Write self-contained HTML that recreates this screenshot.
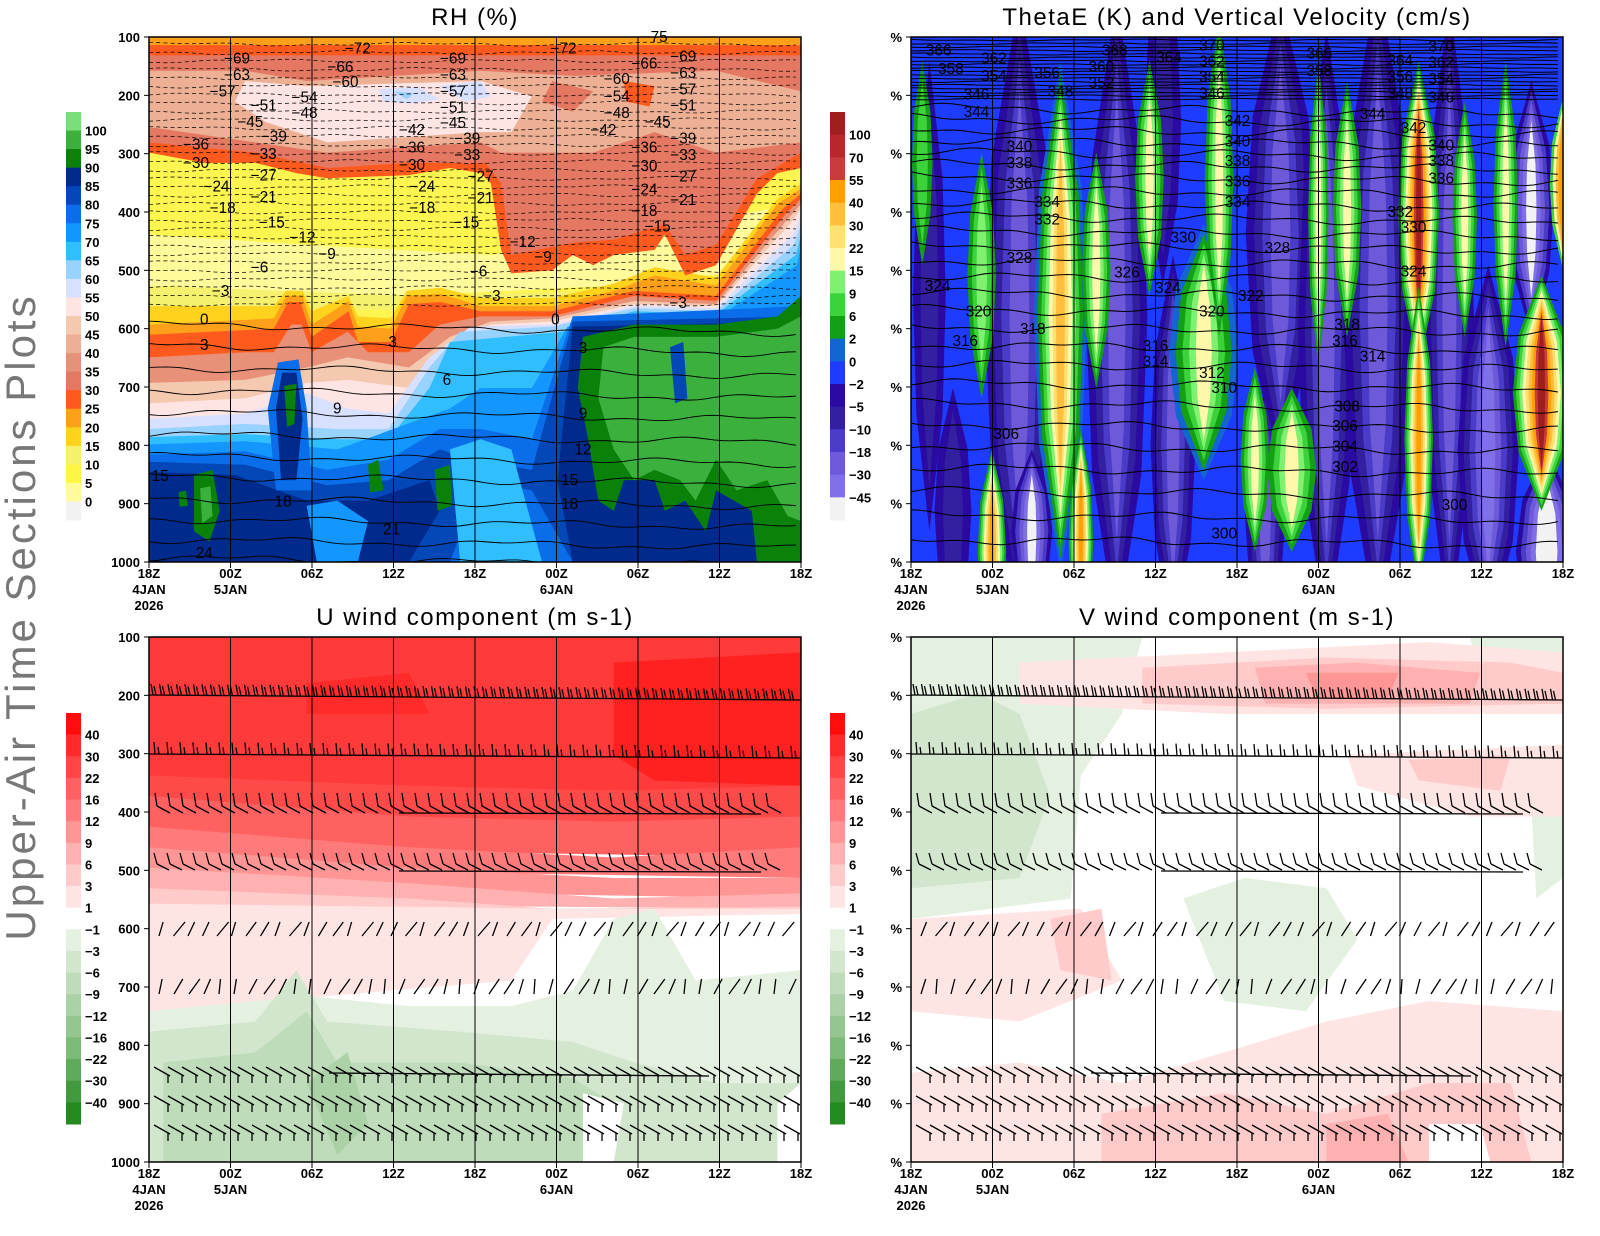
<!DOCTYPE html>
<html><head><meta charset="utf-8">
<style>
html,body{margin:0;padding:0;background:#fff;}
svg{display:block;font-family:"Liberation Sans",sans-serif;}
.t{font-size:13px;font-weight:bold;fill:#000;}
.ttl{font-size:24px;fill:#000;letter-spacing:1.5px;}
.cl{font-size:15px;fill:#000;}
</style></head>
<body>
<svg id="s" width="1600" height="1236" viewBox="0 0 1600 1236" xmlns="http://www.w3.org/2000/svg">
<defs>
<clipPath id="c1"><rect x="146" y="37" width="637" height="513"/></clipPath>
<clipPath id="c2"><rect x="894" y="37" width="637" height="513"/></clipPath>
<clipPath id="c3"><rect x="146" y="625" width="637" height="512"/></clipPath>
<clipPath id="c4"><rect x="894" y="625" width="637" height="512"/></clipPath>
</defs>
<text x="24" y="617" transform="rotate(-90 24 617)" text-anchor="middle" dominant-baseline="middle" style="font-size:42px;fill:#777;letter-spacing:3px">Upper-Air Time Sections Plots</text>
<text class="ttl" x="475" y="25" text-anchor="middle">RH (%)</text>
<text class="ttl" x="1237" y="25" text-anchor="middle">ThetaE (K) and Vertical Velocity (cm/s)</text>
<text class="ttl" x="475" y="625" text-anchor="middle">U wind component (m s-1)</text>
<text class="ttl" x="1237" y="625" text-anchor="middle">V wind component (m s-1)</text>

<!-- Panel 1 RH -->
<g transform="translate(149,37) scale(1.02355,1.0234) translate(-146,-37)">
<g clip-path="url(#c1)">
<rect x="146" y="37" width="637" height="513" fill="#fff550"/>
<polygon fill="#fffa9a" points="146,230 300,240 480,250 783,200 783,260 600,280 400,290 146,280"/>
<polygon fill="#f5f06e" points="146,280 400,290 600,285 783,260 783,300 146,305"/>
<polygon fill="#ffd21e" points="146,300 268,300 280,285 296,285 305,305 341,290 350,310 382,312 398,285 431,282 470,292 540,292 600,278 640,262 700,272 760,195 783,180 783,550 146,550"/>
<polygon fill="#ffa01a" points="146,318 268,312 280,290 296,290 305,318 341,295 350,320 382,322 398,290 431,288 470,300 540,300 600,285 640,270 700,280 760,200 783,185 783,550 146,550"/>
<polygon fill="#ff5a1e" points="146,328 268,322 282,296 294,296 305,330 341,305 350,335 382,335 400,298 431,296 470,305 540,305 620,285 700,290 765,205 783,190 783,550 146,550"/>
<polygon fill="#e99078" points="146,350 240,345 268,345 285,318 295,318 305,345 340,325 360,345 400,345 430,318 470,310 540,310 620,290 700,295 768,210 783,195 783,550 146,550"/>
<polygon fill="#f5c8b0" points="146,375 240,372 300,360 340,350 400,360 440,330 480,315 540,312 620,295 700,298 770,215 783,200 783,550 146,550"/>
<polygon fill="#ffe4e4" points="146,395 240,390 300,375 340,372 400,380 440,340 480,318 540,315 620,298 700,300 772,220 783,205 783,550 146,550"/>
<polygon fill="#d8e0ff" points="146,410 240,405 300,385 340,400 380,405 420,350 460,320 540,318 620,300 700,302 775,230 783,210 783,550 146,550"/>
<polygon fill="#98d2ff" points="146,420 240,415 330,420 380,420 420,360 450,325 540,320 620,302 700,305 776,240 783,220 783,550 146,550"/>
<polygon fill="#30beff" points="146,428 240,425 330,430 380,430 420,380 440,335 550,325 620,305 700,308 778,250 783,230 783,550 146,550"/>
<polygon fill="#1496ff" points="146,435 240,432 330,440 440,400 470,380 520,380 555,320 620,310 700,312 779,260 783,240 783,550 146,550"/>
<polygon fill="#0a6eea" points="146,445 240,442 320,460 380,450 430,420 470,420 520,430 560,310 783,300 783,550 146,550"/>
<polygon fill="#0448b8" points="146,452 240,455 320,475 380,470 430,440 460,450 520,460 560,315 783,310 783,550 560,550 520,480 470,470 440,550 146,550"/>
<polygon fill="#002a8c" points="146,462 230,465 300,490 360,490 420,470 430,500 400,550 146,550"/>
<polygon fill="#002a8c" points="560,320 783,315 783,550 560,550 545,470"/>
<polygon fill="#30beff" points="440,440 470,430 500,440 530,550 450,550"/>
<polygon fill="#1496ff" points="300,495 330,490 360,510 350,550 310,550"/>
<!-- blue spike -->
<polygon fill="#0a6eea" points="262,400 272,355 292,352 300,400 305,480 270,480"/>
<polygon fill="#002a8c" points="270,400 276,365 290,365 296,410 290,470 275,470"/>
<polygon fill="#0a820a" points="278,378 290,376 288,415 281,418"/>
<!-- left greens -->
<polygon fill="#0a820a" points="190,465 208,460 215,500 205,530 190,520"/>
<polygon fill="#3cb03c" points="196,478 206,476 208,505 198,512"/>
<polygon fill="#0a820a" points="175,482 182,480 184,495 176,496"/>
<polygon fill="#0a820a" points="360,455 370,450 375,480 362,482"/>
<polygon fill="#0a820a" points="425,460 440,455 442,495 428,500"/>
<!-- right greens -->
<polygon fill="#0a820a" points="570,330 620,318 700,318 760,310 783,290 783,550 740,550 735,500 700,480 690,520 670,490 650,500 640,470 610,470 600,500 585,490 575,430 565,380"/>
<polygon fill="#3cb03c" points="590,340 620,330 700,330 760,322 783,310 783,510 770,505 750,470 720,480 700,450 680,490 665,470 640,460 620,470 600,440 585,390"/>
<polygon fill="#0448b8" points="655,340 668,335 672,390 660,395"/>
<!-- top dry area -->
<polygon fill="#ffa01a" points="146,37 783,37 783,45 146,47"/>
<polygon fill="#ff5a1e" points="146,45 783,45 783,165 760,170 740,190 700,260 670,270 650,230 640,245 600,250 580,260 560,250 540,265 500,268 490,245 480,180 470,170 440,165 400,172 320,175 290,170 250,160 200,160 146,150"/>
<polygon fill="#e57862" points="146,55 783,55 783,150 740,175 700,240 670,250 650,220 600,235 560,238 500,250 490,180 475,160 400,160 320,165 250,150 146,140"/>
<polygon fill="#eeb094" points="146,70 240,70 300,80 470,70 560,75 700,70 783,90 783,140 700,150 640,130 580,150 490,150 470,140 320,150 250,140 146,125"/>
<polygon fill="#ffe4e4" points="240,80 300,85 470,80 520,95 500,130 470,130 320,140 260,120 230,100"/>
<polygon fill="#d8e0ff" points="370,88 410,86 430,98 400,102 375,100"/>
<polygon fill="#98d2ff" points="385,90 405,92 398,98"/>
<polygon fill="#d8e0ff" points="430,85 470,80 480,95 455,100"/>
<polygon fill="#e57862" points="540,80 580,90 560,110 530,100"/>
<polygon fill="#ff5a1e" points="610,80 640,85 635,105 612,100"/>
</g>
<g id="p1lines" clip-path="url(#c1)"></g>
<g id="p1lab"></g>
</g>

<!-- Panel 2 ThetaE -->
<g transform="translate(911,37) scale(1.02355,1.0234) translate(-894,-37)">
<g clip-path="url(#c2)" id="p2fill">
<rect x="894" y="37" width="637" height="513" fill="#1e3cff"/>
</g>
<g id="p2lines" clip-path="url(#c2)"></g>
<g id="p2lab"></g>
</g>

<!-- Panel 3 U -->
<g transform="translate(149,637) scale(1.02355,1.0254) translate(-146,-625)">
<g clip-path="url(#c3)">
<rect x="146" y="625" width="637" height="512" fill="#ffffff"/>
<rect x="146" y="625" width="637" height="150" fill="#ff3a3a"/>
<polygon fill="#ff2020" points="600,650 783,640 783,770 640,765 600,740"/>
<polygon fill="#ff2a2a" points="300,670 400,660 420,700 300,700"/>
<polygon fill="#ff4a4a" points="146,760 400,770 600,775 783,770 783,820 146,800"/>
<polygon fill="#ff6060" points="146,780 400,800 600,805 783,800 783,840 146,830"/>
<polygon fill="#ff7a7a" points="146,810 400,830 600,840 783,830 783,860 146,850"/>
<polygon fill="#ff9595" points="146,830 400,850 600,860 783,860 783,880 146,870"/>
<polygon fill="#ffb0b0" points="146,850 400,865 600,880 783,875 783,890 146,885"/>
<polygon fill="#ffcaca" points="146,870 400,880 540,890 783,888 783,895 146,905"/>
<polygon fill="#ffe4e4" points="146,885 540,890 783,890 783,895 540,900 500,960 380,970 146,990"/>
<polygon fill="#e4f0e0" points="146,990 300,975 400,985 500,985 560,970 600,900 640,890 680,960 783,950 783,1137 146,1137"/>
<polygon fill="#d2e6ce" points="146,1010 250,1000 290,950 320,1000 450,1010 560,1020 620,1040 700,1060 783,1060 783,1137 146,1137"/>
<polygon fill="#bedcba" points="160,1040 250,1030 300,990 330,1040 450,1040 560,1055 600,1080 600,1137 160,1137"/>
<polygon fill="#aad2a6" points="300,1060 340,1030 360,1100 330,1130"/>
<polygon fill="#ffffff" points="570,1070 610,1080 600,1137 570,1137"/>
<polygon fill="#ffffff" points="760,1080 783,1060 783,1137 760,1137"/>
</g>
</g>

<!-- Panel 4 V -->
<g transform="translate(911,637) scale(1.02355,1.0254) translate(-894,-625)">
<g clip-path="url(#c4)">
<rect x="894" y="625" width="637" height="512" fill="#ffffff"/>
<polygon fill="#e4f0e0" points="894,625 1120,625 1100,700 1060,760 1050,880 894,900"/>
<polygon fill="#d2e6ce" points="894,700 960,680 1000,700 1030,780 1000,860 894,870"/>
<polygon fill="#e4f0e0" points="1440,625 1531,625 1531,670 1450,660"/>
<polygon fill="#e4f0e0" points="1160,880 1220,860 1300,870 1330,920 1280,990 1200,980"/>
<polygon fill="#e4f0e0" points="1500,790 1531,780 1531,860 1505,880"/>
<polygon fill="#ffe4e4" points="1000,650 1200,640 1400,630 1531,640 1531,700 1400,700 1200,700 1000,690"/>
<polygon fill="#ffcaca" points="1120,655 1300,645 1480,650 1531,660 1531,690 1300,695 1120,690"/>
<polygon fill="#ffb0b0" points="1230,655 1330,650 1450,660 1440,690 1240,690"/>
<polygon fill="#ff9595" points="1280,660 1370,660 1360,685 1290,685"/>
<polygon fill="#ffe4e4" points="1320,740 1531,730 1531,800 1440,800 1330,770"/>
<polygon fill="#ffcaca" points="1380,745 1480,740 1470,775 1390,765"/>
<polygon fill="#ffe4e4" points="894,900 1060,890 1100,960 1000,1000 894,990"/>
<polygon fill="#ffcaca" points="1030,900 1080,890 1090,960 1040,950"/>
<polygon fill="#ffe4e4" points="894,1050 1000,1040 1100,1060 1300,1000 1400,980 1531,990 1531,1137 894,1137"/>
<polygon fill="#ffcaca" points="1080,1090 1200,1070 1300,1090 1400,1060 1480,1060 1500,1137 1080,1137"/>
<polygon fill="#ffb0b0" points="1300,1100 1360,1090 1380,1137 1300,1137"/>
<polygon fill="#ffffff" points="1400,1100 1450,1100 1460,1137 1400,1137"/>
</g>
</g>

<g id="frames" fill="none" stroke="#000" stroke-width="1.5">
<rect x="149" y="37" width="652" height="525"/>
<rect x="911" y="37" width="652" height="525"/>
<rect x="149" y="637" width="652" height="525"/>
<rect x="911" y="637" width="652" height="525"/>
</g>
<g id="vgrid" stroke="#000" stroke-width="1"></g>
<g id="barbs" stroke="#000" stroke-width="1.3" fill="none"></g>
<g id="axes"></g>
<g id="bars"></g>
</svg>
<script>
var NS="http://www.w3.org/2000/svg";
function el(par,tag,attrs,txt){var e=document.createElementNS(NS,tag);for(var k in attrs)e.setAttribute(k,attrs[k]);if(txt!==undefined)e.textContent=txt;document.getElementById(par).appendChild(e);return e;}
var panels=[[149,37],[911,37],[149,637],[911,637]];
var tl=["18Z","00Z","06Z","12Z","18Z","00Z","06Z","12Z","18Z"];
var pl=[100,200,300,400,500,600,700,800,900,1000];
panels.forEach(function(p,pi){
  for(var i=1;i<8;i++){var x=p[0]+81.5*i;el("vgrid","line",{x1:x,y1:p[1],x2:x,y2:p[1]+525});}
  for(var i=0;i<9;i++){var x=p[0]+81.5*i;
    el("axes","text",{x:x,y:p[1]+541,"text-anchor":"middle","class":"t"},tl[i]);
    el("axes","line",{x1:x,y1:p[1]+525,x2:x,y2:p[1]+531,stroke:"#000"});}
  el("axes","text",{x:p[0],y:p[1]+557,"text-anchor":"middle","class":"t"},"4JAN");
  el("axes","text",{x:p[0],y:p[1]+573,"text-anchor":"middle","class":"t"},"2026");
  el("axes","text",{x:p[0]+81.5,y:p[1]+557,"text-anchor":"middle","class":"t"},"5JAN");
  el("axes","text",{x:p[0]+81.5*5,y:p[1]+557,"text-anchor":"middle","class":"t"},"6JAN");
  pl.forEach(function(v){var y=p[1]+(v-100)*525/900;
    el("axes","line",{x1:p[0]-5,y1:y,x2:p[0],y2:y,stroke:"#000"});
    el("axes","text",{x:p[0]-9,y:y+5,"text-anchor":"end","class":"t"},pi%2==0?String(v):"%");});
});
function bar(x,y0,h,cols,labs,off){var n=cols.length,bh=h/n;
  cols.forEach(function(c,i){el("bars","rect",{x:x,y:y0+i*bh,width:15,height:bh+0.5,fill:c});});
  labs.forEach(function(l,i){el("bars","text",{x:x+19,y:y0+(i+off)*bh+5,"class":"t"},l);});}
var rhc=["#77e07a","#3cb03c","#0a820a","#002a8c","#0448b8","#0a6eea","#1496ff","#30beff","#98d2ff","#d8e0ff","#ffe4e4","#f5c8b0","#eeb094","#e99078","#e57862","#ff5a1e","#ffa01a","#ffd21e","#f5f06e","#fff546","#fffa9a","#f2f2f2"];
bar(66,112,408,rhc,["100","95","90","85","80","75","70","65","60","55","50","45","40","35","30","25","20","15","10","5","0"],1);
var thc=["#a01e1e","#b82828","#c83c3c","#ffa000","#ffbe3c","#ffe070","#fff8aa","#80f070","#3cd23c","#14a014","#1464d2","#1e3cff","#2a0aa0","#3220a0","#4a3cc8","#6e5ad8","#8070e8","#f2f2f2"];
bar(830,112,408,thc,["100","70","55","40","30","22","15","9","6","2","0","\u22122","\u22125","\u221210","\u221218","\u221230","\u221245"],1);
var uvc=["#ff0d0d","#ff2a2a","#ff4545","#ff6060","#ff7a7a","#ff9595","#ffb0b0","#ffcaca","#ffe4e4","#ffffff","#e4f0e0","#d2e6ce","#bedcba","#aad2a6","#94c690","#7cba78","#60aa5c","#429a3e","#248a20"];
var uvl=["40","30","22","16","12","9","6","3","1","\u22121","\u22123","\u22126","\u22129","\u221212","\u221216","\u221222","\u221230","\u221240"];
bar(66,713,411,uvc,uvl,1);bar(830,713,411,uvc,uvl,1);
function wline(par,y,x0,x1,amp,ph,tilt,dash,w){var pts=[];for(var x=x0;x<=x1;x+=8){pts.push(x+","+(y+amp*Math.sin(x/37+ph)+amp*0.6*Math.sin(x/13+ph*2)+tilt*(x-x0)/(x1-x0)).toFixed(1));}
  var a={points:pts.join(" "),fill:"none",stroke:"#000","stroke-width":w||0.8};if(dash)a["stroke-dasharray"]="4,3";el(par,"polyline",a);}
for(var y=44;y<300;y+=8.2){wline("p1lines",y,146,783,1.2,y,0,true,0.7);}
var sl=[318,338,360,382,403,425,446,466,488,508,528,546];
sl.forEach(function(y,i){wline("p1lines",y,146,783,2.5,i,8,false,0.9);});
var L1=[["-69",232,58],["-63",232,74],["-57",218,90],["-51",258,104],["-45",245,120],["-36",192,142],["-30",192,160],["-24",212,183],["-18",218,204],["-72",350,48],["-66",333,66],["-60",338,81],["-54",298,96],["-48",298,111],["-39",268,134],["-33",258,151],["-27",258,172],["-21",258,193],["-15",266,218],["-12",296,233],["-9",320,249],["-6",254,262],["-3",216,285],["0",200,313],["3",200,338],["-42",403,128],["-36",403,145],["-30",403,162],["-24",413,183],["-18",413,204],["-15",456,218],["-69",443,58],["-63",443,74],["-57",443,90],["-51",443,106],["-45",443,121],["-39",457,136],["-33",457,152],["-27",470,173],["-21",470,194],["-12",511,237],["-9",531,252],["-6",468,266],["-3",481,290],["0",543,313],["3",570,341],["6",437,372],["9",330,400],["3",384,335],["-72",551,48],["-60",603,78],["-54",603,95],["-48",603,111],["-42",590,128],["-36",630,145],["-30",630,163],["-24",630,186],["-18",630,207],["-15",643,222],["-75",640,37],["-66",630,63],["-69",668,56],["-63",668,72],["-57",668,88],["-51",668,104],["-45",643,120],["-39",668,136],["-33",668,152],["-27",668,173],["-21",668,196],["-3",663,297],["9",570,405],["12",570,440],["15",557,470],["18",557,493],["21",383,518],["24",200,541],["15",157,466],["18",277,491]];
L1.forEach(function(l){el("p1lab","text",{x:l[1],y:l[2]+5,"text-anchor":"middle","class":"cl"},l[0].replace("-","\u2212"));});
// panel 2: spindle columns
function spin(cx,y0,y1,w,cs){var n=cs.length;cs.forEach(function(c,i){var f=1-i/(n+0.2);var h=(y1-y0)/2,cy=(y0+y1)/2,hh=h*(0.6+0.4*f),ww=w*f;
  var pts=[[cx,cy-hh],[cx+ww*0.8,cy-hh*0.5],[cx+ww,cy],[cx+ww*0.8,cy+hh*0.5],[cx,cy+hh],[cx-ww*0.8,cy+hh*0.5],[cx-ww,cy],[cx-ww*0.8,cy-hh*0.5]];
  el("p2fill","polygon",{points:pts.map(function(p){return p[0].toFixed(1)+","+p[1].toFixed(1);}).join(" "),fill:c});});}
var NV=["#2a0aa0","#3220a0","#4a3cc8","#6e5ad8"];
spin(912,60,520,16,["#2a0aa0","#3220a0"]);
spin(935,380,620,18,["#2a0aa0","#3220a0"]);
spin(1000,0,620,34,NV);
spin(1095,0,620,30,NV);
spin(1150,250,620,22,NV);
spin(1140,-40,280,18,["#2a0aa0","#3220a0"]);
spin(1255,0,460,34,NV);
spin(1240,380,620,20,NV);
spin(1300,30,620,28,NV);
spin(1350,-20,620,34,NV);
spin(1420,0,620,24,NV);
spin(1458,260,620,30,["#2a0aa0","#3220a0","#4a3cc8","#6e5ad8","#8070e8"]);
spin(1500,80,330,22,["#2a0aa0","#4a3cc8","#6e5ad8","#8070e8","#f2f2f2"]);
spin(1515,440,640,30,["#2a0aa0","#4a3cc8","#6e5ad8","#8070e8","#f2f2f2","#f2f2f2"]);
spin(1012,440,600,20,["#2a0aa0","#4a3cc8","#6e5ad8","#8070e8","#f2f2f2"]);
var GY=["#14a014","#3cd23c","#80f070","#fff8aa"];
var GO=["#14a014","#3cd23c","#80f070","#fff8aa","#ffe070","#ffbe3c","#ffa000"];
spin(905,60,260,10,["#14a014","#3cd23c"]);
spin(963,150,390,14,["#14a014","#3cd23c","#80f070"]);
spin(973,440,640,14,GO);
spin(1040,60,560,26,["#1464d2","#14a014","#3cd23c","#80f070","#fff8aa","#ffe070","#ffbe3c"]);
spin(1060,420,640,12,GO);
spin(1075,150,380,14,GY);
spin(1127,60,290,14,GY);
spin(1180,220,470,34,["#1464d2","#14a014","#3cd23c","#80f070","#fff8aa"]);
spin(1195,20,330,14,GY);
spin(1230,360,540,14,GY);
spin(1266,380,540,24,["#14a014","#3cd23c","#80f070","#fff8aa"]);
spin(1292,60,360,10,GY);
spin(1320,80,330,14,GY);
spin(1390,60,360,20,["#14a014","#3cd23c","#80f070","#fff8aa","#ffe070","#ffbe3c","#ffa000","#c83c3c","#a01e1e"]);
spin(1390,280,580,14,["#14a014","#3cd23c","#80f070","#fff8aa","#ffe070","#ffbe3c","#ffa000"]);
spin(1435,100,330,12,GY);
spin(1475,60,340,12,GY);
spin(1510,270,500,28,["#14a014","#3cd23c","#80f070","#fff8aa","#ffe070","#ffbe3c","#ffa000","#c83c3c","#a01e1e"]);
spin(1530,100,260,12,["#3cd23c","#fff8aa","#ffbe3c","#ffa000"]);
var ty=[];for(var y=40;y<100;y+=3.4)ty.push(y);
var yy=106;while(yy<548){ty.push(yy);yy+=10+(yy-100)*0.035;}
ty.forEach(function(y,i){wline("p2lines",y,894,1531,y<100?0.6:3,i*1.3,y<100?0:6,false,1);});
var L2=[["366",921,50],["358",933,68],["362",975,58],["354",975,75],["356",1027,72],["348",1040,90],["346",958,93],["344",958,110],["368",1093,50],["360",1080,66],["352",1080,82],["364",1146,57],["370",1188,45],["362",1188,61],["354",1188,76],["346",1188,92],["366",1293,53],["358",1293,70],["364",1372,60],["356",1372,76],["348",1372,92],["344",1345,112],["370",1412,46],["362",1412,62],["354",1412,78],["346",1412,96],["340",1000,144],["338",1000,160],["336",1000,180],["334",1027,198],["332",1027,215],["342",1213,119],["340",1213,139],["338",1213,158],["336",1213,178],["334",1213,198],["330",1160,233],["328",1252,243],["326",1105,267],["324",1145,282],["322",1226,290],["320",1188,305],["328",1000,253],["324",920,280],["320",960,305],["318",1013,322],["316",947,334],["318",1320,318],["316",1318,334],["314",1345,349],["316",1133,339],["314",1133,354],["312",1188,365],["310",1200,380],["308",1320,398],["306",1318,417],["304",1318,437],["302",1318,457],["306",987,425],["342",1385,126],["340",1412,143],["338",1412,158],["336",1412,175],["332",1372,208],["330",1385,223],["324",1385,266],["300",1425,494],["300",1200,522]];
L2.forEach(function(l){el("p2lab","text",{x:l[1],y:l[2]+5,"text-anchor":"middle","class":"cl"},l[0]);});
function seg(x1,y1,x2,y2){el("barbs","line",{x1:x1.toFixed(1),y1:y1.toFixed(1),x2:x2.toFixed(1),y2:y2.toFixed(1)});}
function rows(ox){
  var X0=149+ox,X1=801+ox;
  seg(X0,695,X1,700);
  for(var x=X0+4;x<X1-6;x+=8.5){var y=695+5*(x-X0)/652;seg(x,y,x-2,y-11);seg(x+3,y,x+1,y-9);}
  seg(X0,754,X1,758);
  for(var x=X0+6;x<X1-6;x+=13){var y=754+4*(x-X0)/652;seg(x,y,x-1,y-12);seg(x+4,y,x+3,y-7);}
  for(var x=X0+8;x<X1-30;x+=13){var y=812;seg(x,y-6,x+13,y+1);seg(x,y-6,x-2,y-19);}
  seg(X0+250,813,X1-40,814);
  for(var x=X0+8;x<X1-30;x+=13){var y=870;seg(x,y-6,x+12,y);seg(x,y-6,x-3,y-17);}
  seg(X0+250,871,X1-40,872);
  for(var x=X0+10;x<X1-10;x+=14.5){var y=929;var k=Math.sin(x*0.7);seg(x,y+7,x+8+4*k,y-7);}
  for(var x=X0+10;x<X1-10;x+=15){var y=987;var k=Math.cos(x*0.5);seg(x,y+7,x+6+5*k,y-8);}
  [1075,1104,1133].forEach(function(y){for(var x=X0+5;x<X1-10;x+=14){seg(x,y-8,x+16,y+1);seg(x+14,y,x+14,y+8);}});
  seg(X0+180,1073,X0+560,1076);
}
rows(0);rows(762);
</script>
</body></html>
